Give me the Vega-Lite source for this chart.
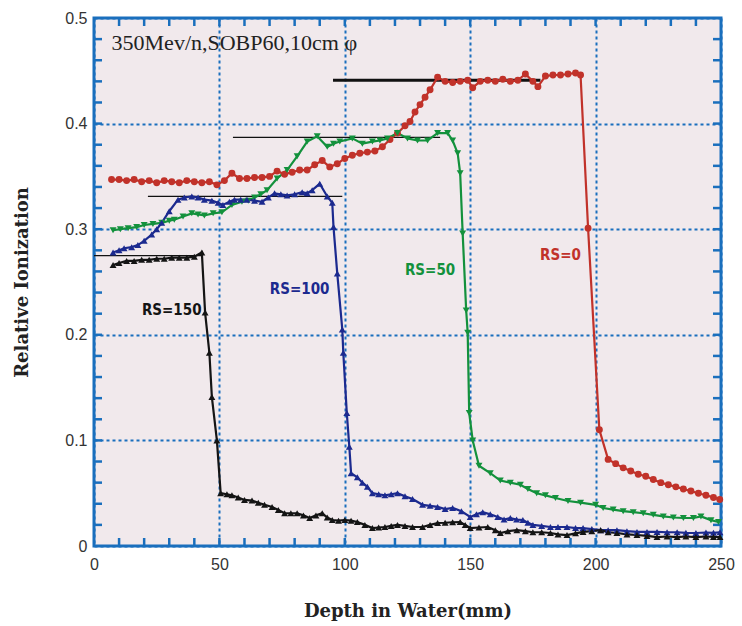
{
  "$schema": "https://vega.github.io/schema/vega-lite/v6.json",
  "width": 627,
  "height": 528,
  "autosize": {"type": "none"},
  "padding": {"left": 94, "top": 18, "right": 21, "bottom": 80},
  "background": "white",
  "config": {
    "view": {"fill": "#f1e9ec", "stroke": "#1a6fbd", "strokeWidth": 3}
  },
  "datasets": {
    "curves": [
      {"s":"RS=0","x":7,"y":0.347},{"s":"RS=0","x":10,"y":0.347},{"s":"RS=0","x":13,"y":0.346},{"s":"RS=0","x":16,"y":0.347},{"s":"RS=0","x":19,"y":0.345},{"s":"RS=0","x":22,"y":0.346},{"s":"RS=0","x":25,"y":0.344},{"s":"RS=0","x":28,"y":0.346},{"s":"RS=0","x":31,"y":0.345},{"s":"RS=0","x":34,"y":0.344},{"s":"RS=0","x":37,"y":0.346},{"s":"RS=0","x":40,"y":0.345},{"s":"RS=0","x":43,"y":0.344},{"s":"RS=0","x":46,"y":0.345},{"s":"RS=0","x":49,"y":0.342},{"s":"RS=0","x":52,"y":0.346},{"s":"RS=0","x":55,"y":0.353},{"s":"RS=0","x":58,"y":0.348},{"s":"RS=0","x":61,"y":0.348},{"s":"RS=0","x":64,"y":0.349},{"s":"RS=0","x":67,"y":0.349},{"s":"RS=0","x":70,"y":0.35},{"s":"RS=0","x":73,"y":0.355},{"s":"RS=0","x":76,"y":0.352},{"s":"RS=0","x":79,"y":0.354},{"s":"RS=0","x":82,"y":0.356},{"s":"RS=0","x":85,"y":0.356},{"s":"RS=0","x":88,"y":0.361},{"s":"RS=0","x":91,"y":0.365},{"s":"RS=0","x":94,"y":0.359},{"s":"RS=0","x":97,"y":0.362},{"s":"RS=0","x":100,"y":0.367},{"s":"RS=0","x":103,"y":0.37},{"s":"RS=0","x":106,"y":0.372},{"s":"RS=0","x":109,"y":0.373},{"s":"RS=0","x":112,"y":0.374},{"s":"RS=0","x":115,"y":0.378},{"s":"RS=0","x":118,"y":0.385},{"s":"RS=0","x":121,"y":0.391},{"s":"RS=0","x":124,"y":0.398},{"s":"RS=0","x":126,"y":0.402},{"s":"RS=0","x":128,"y":0.411},{"s":"RS=0","x":130,"y":0.418},{"s":"RS=0","x":132,"y":0.425},{"s":"RS=0","x":134,"y":0.432},{"s":"RS=0","x":137,"y":0.444},{"s":"RS=0","x":140,"y":0.44},{"s":"RS=0","x":143,"y":0.439},{"s":"RS=0","x":146,"y":0.44},{"s":"RS=0","x":149,"y":0.441},{"s":"RS=0","x":151,"y":0.434},{"s":"RS=0","x":154,"y":0.44},{"s":"RS=0","x":157,"y":0.441},{"s":"RS=0","x":160,"y":0.44},{"s":"RS=0","x":163,"y":0.442},{"s":"RS=0","x":166,"y":0.44},{"s":"RS=0","x":169,"y":0.441},{"s":"RS=0","x":172,"y":0.447},{"s":"RS=0","x":175,"y":0.44},{"s":"RS=0","x":177,"y":0.435},{"s":"RS=0","x":180,"y":0.445},{"s":"RS=0","x":183,"y":0.446},{"s":"RS=0","x":186,"y":0.446},{"s":"RS=0","x":189,"y":0.447},{"s":"RS=0","x":192,"y":0.448},{"s":"RS=0","x":194,"y":0.446},{"s":"RS=0","x":197,"y":0.301},{"s":"RS=0","x":201.5,"y":0.11},{"s":"RS=0","x":205,"y":0.082},{"s":"RS=0","x":208,"y":0.078},{"s":"RS=0","x":211,"y":0.074},{"s":"RS=0","x":214,"y":0.071},{"s":"RS=0","x":217,"y":0.068},{"s":"RS=0","x":220,"y":0.066},{"s":"RS=0","x":223,"y":0.063},{"s":"RS=0","x":226,"y":0.06},{"s":"RS=0","x":229,"y":0.058},{"s":"RS=0","x":232,"y":0.056},{"s":"RS=0","x":235,"y":0.054},{"s":"RS=0","x":238,"y":0.052},{"s":"RS=0","x":241,"y":0.05},{"s":"RS=0","x":244,"y":0.048},{"s":"RS=0","x":247,"y":0.046},{"s":"RS=0","x":249.5,"y":0.044},

      {"s":"RS=50","x":7.6,"y":0.299},{"s":"RS=50","x":10.5,"y":0.3},{"s":"RS=50","x":13.6,"y":0.301},{"s":"RS=50","x":17,"y":0.302},{"s":"RS=50","x":20,"y":0.304},{"s":"RS=50","x":23.5,"y":0.305},{"s":"RS=50","x":27,"y":0.306},{"s":"RS=50","x":30,"y":0.308},{"s":"RS=50","x":32,"y":0.309},{"s":"RS=50","x":35.5,"y":0.312},{"s":"RS=50","x":39,"y":0.315},{"s":"RS=50","x":41.5,"y":0.314},{"s":"RS=50","x":44,"y":0.313},{"s":"RS=50","x":47.5,"y":0.315},{"s":"RS=50","x":51,"y":0.316},{"s":"RS=50","x":55,"y":0.323},{"s":"RS=50","x":59,"y":0.326},{"s":"RS=50","x":61.5,"y":0.327},{"s":"RS=50","x":64,"y":0.33},{"s":"RS=50","x":66.5,"y":0.333},{"s":"RS=50","x":69,"y":0.337},{"s":"RS=50","x":73,"y":0.348},{"s":"RS=50","x":77,"y":0.356},{"s":"RS=50","x":81,"y":0.369},{"s":"RS=50","x":85,"y":0.383},{"s":"RS=50","x":89,"y":0.388},{"s":"RS=50","x":93,"y":0.378},{"s":"RS=50","x":95.5,"y":0.381},{"s":"RS=50","x":98,"y":0.383},{"s":"RS=50","x":103,"y":0.386},{"s":"RS=50","x":107,"y":0.381},{"s":"RS=50","x":111,"y":0.383},{"s":"RS=50","x":114,"y":0.384},{"s":"RS=50","x":117,"y":0.386},{"s":"RS=50","x":121,"y":0.391},{"s":"RS=50","x":125,"y":0.386},{"s":"RS=50","x":129,"y":0.384},{"s":"RS=50","x":133,"y":0.384},{"s":"RS=50","x":137,"y":0.391},{"s":"RS=50","x":141,"y":0.391},{"s":"RS=50","x":143,"y":0.384},{"s":"RS=50","x":145,"y":0.372},{"s":"RS=50","x":146,"y":0.353},{"s":"RS=50","x":147,"y":0.296},{"s":"RS=50","x":148.4,"y":0.223},{"s":"RS=50","x":149,"y":0.202},{"s":"RS=50","x":149.6,"y":0.126},{"s":"RS=50","x":151,"y":0.1},{"s":"RS=50","x":153.5,"y":0.076},{"s":"RS=50","x":158,"y":0.069},{"s":"RS=50","x":162,"y":0.062},{"s":"RS=50","x":166,"y":0.06},{"s":"RS=50","x":170,"y":0.058},{"s":"RS=50","x":173,"y":0.054},{"s":"RS=50","x":176.5,"y":0.05},{"s":"RS=50","x":180,"y":0.048},{"s":"RS=50","x":184,"y":0.0455},{"s":"RS=50","x":189,"y":0.0426},{"s":"RS=50","x":194,"y":0.041},{"s":"RS=50","x":200,"y":0.039},{"s":"RS=50","x":203,"y":0.036},{"s":"RS=50","x":207,"y":0.0345},{"s":"RS=50","x":211,"y":0.033},{"s":"RS=50","x":215,"y":0.032},{"s":"RS=50","x":219,"y":0.031},{"s":"RS=50","x":223,"y":0.0295},{"s":"RS=50","x":227,"y":0.028},{"s":"RS=50","x":231,"y":0.027},{"s":"RS=50","x":235,"y":0.0265},{"s":"RS=50","x":239,"y":0.0265},{"s":"RS=50","x":242,"y":0.028},{"s":"RS=50","x":246,"y":0.0245},{"s":"RS=50","x":249,"y":0.0227},

      {"s":"RS=100","x":7.6,"y":0.278},{"s":"RS=100","x":10,"y":0.28},{"s":"RS=100","x":12,"y":0.282},{"s":"RS=100","x":15,"y":0.283},{"s":"RS=100","x":17.5,"y":0.285},{"s":"RS=100","x":20,"y":0.289},{"s":"RS=100","x":23,"y":0.295},{"s":"RS=100","x":25,"y":0.3},{"s":"RS=100","x":27,"y":0.306},{"s":"RS=100","x":30,"y":0.317},{"s":"RS=100","x":33.5,"y":0.328},{"s":"RS=100","x":36,"y":0.33},{"s":"RS=100","x":39,"y":0.331},{"s":"RS=100","x":41.5,"y":0.33},{"s":"RS=100","x":44,"y":0.328},{"s":"RS=100","x":47,"y":0.327},{"s":"RS=100","x":49.5,"y":0.325},{"s":"RS=100","x":51.4,"y":0.323},{"s":"RS=100","x":54,"y":0.326},{"s":"RS=100","x":56,"y":0.328},{"s":"RS=100","x":58.5,"y":0.328},{"s":"RS=100","x":61,"y":0.328},{"s":"RS=100","x":64,"y":0.327},{"s":"RS=100","x":67,"y":0.326},{"s":"RS=100","x":69.5,"y":0.33},{"s":"RS=100","x":72,"y":0.334},{"s":"RS=100","x":74.5,"y":0.333},{"s":"RS=100","x":77,"y":0.332},{"s":"RS=100","x":80,"y":0.333},{"s":"RS=100","x":83,"y":0.335},{"s":"RS=100","x":85,"y":0.334},{"s":"RS=100","x":87,"y":0.337},{"s":"RS=100","x":90,"y":0.343},{"s":"RS=100","x":93,"y":0.331},{"s":"RS=100","x":95,"y":0.325},{"s":"RS=100","x":95.5,"y":0.302},{"s":"RS=100","x":97,"y":0.258},{"s":"RS=100","x":99,"y":0.205},{"s":"RS=100","x":99.4,"y":0.183},{"s":"RS=100","x":100.8,"y":0.126},{"s":"RS=100","x":101.8,"y":0.094},{"s":"RS=100","x":102.5,"y":0.069},{"s":"RS=100","x":105,"y":0.065},{"s":"RS=100","x":107,"y":0.06},{"s":"RS=100","x":109,"y":0.056},{"s":"RS=100","x":111,"y":0.05},{"s":"RS=100","x":113.5,"y":0.049},{"s":"RS=100","x":116,"y":0.048},{"s":"RS=100","x":118.5,"y":0.049},{"s":"RS=100","x":121,"y":0.05},{"s":"RS=100","x":124,"y":0.047},{"s":"RS=100","x":127,"y":0.0445},{"s":"RS=100","x":131,"y":0.039},{"s":"RS=100","x":134,"y":0.038},{"s":"RS=100","x":137,"y":0.037},{"s":"RS=100","x":140,"y":0.035},{"s":"RS=100","x":143,"y":0.036},{"s":"RS=100","x":146.5,"y":0.033},{"s":"RS=100","x":150,"y":0.0275},{"s":"RS=100","x":152.5,"y":0.03},{"s":"RS=100","x":155,"y":0.032},{"s":"RS=100","x":158,"y":0.03},{"s":"RS=100","x":161,"y":0.0275},{"s":"RS=100","x":163.5,"y":0.025},{"s":"RS=100","x":166,"y":0.0265},{"s":"RS=100","x":168.5,"y":0.025},{"s":"RS=100","x":171,"y":0.0246},{"s":"RS=100","x":173,"y":0.022},{"s":"RS=100","x":175,"y":0.02},{"s":"RS=100","x":178.5,"y":0.019},{"s":"RS=100","x":182,"y":0.018},{"s":"RS=100","x":185,"y":0.018},{"s":"RS=100","x":188.6,"y":0.018},{"s":"RS=100","x":192,"y":0.017},{"s":"RS=100","x":195,"y":0.017},{"s":"RS=100","x":198.5,"y":0.016},{"s":"RS=100","x":202,"y":0.015},{"s":"RS=100","x":205,"y":0.015},{"s":"RS=100","x":208.5,"y":0.015},{"s":"RS=100","x":212.5,"y":0.014},{"s":"RS=100","x":216.5,"y":0.0133},{"s":"RS=100","x":220.5,"y":0.0133},{"s":"RS=100","x":224.5,"y":0.0133},{"s":"RS=100","x":228.5,"y":0.013},{"s":"RS=100","x":232.5,"y":0.013},{"s":"RS=100","x":236,"y":0.0125},{"s":"RS=100","x":240,"y":0.0123},{"s":"RS=100","x":244,"y":0.0128},{"s":"RS=100","x":247,"y":0.0125},{"s":"RS=100","x":249.6,"y":0.013},

      {"s":"RS=150","x":7.6,"y":0.266},{"s":"RS=150","x":10,"y":0.268},{"s":"RS=150","x":13,"y":0.27},{"s":"RS=150","x":16,"y":0.27},{"s":"RS=150","x":19,"y":0.271},{"s":"RS=150","x":22,"y":0.271},{"s":"RS=150","x":25,"y":0.272},{"s":"RS=150","x":28,"y":0.272},{"s":"RS=150","x":31,"y":0.273},{"s":"RS=150","x":34,"y":0.273},{"s":"RS=150","x":37,"y":0.273},{"s":"RS=150","x":40,"y":0.274},{"s":"RS=150","x":43,"y":0.278},{"s":"RS=150","x":44.3,"y":0.221},{"s":"RS=150","x":46,"y":0.183},{"s":"RS=150","x":47,"y":0.141},{"s":"RS=150","x":49,"y":0.1},{"s":"RS=150","x":50.5,"y":0.05},{"s":"RS=150","x":53,"y":0.049},{"s":"RS=150","x":55,"y":0.048},{"s":"RS=150","x":57.5,"y":0.046},{"s":"RS=150","x":60,"y":0.0436},{"s":"RS=150","x":63,"y":0.043},{"s":"RS=150","x":65.5,"y":0.041},{"s":"RS=150","x":68,"y":0.039},{"s":"RS=150","x":71,"y":0.037},{"s":"RS=150","x":73.5,"y":0.034},{"s":"RS=150","x":76,"y":0.031},{"s":"RS=150","x":78.5,"y":0.031},{"s":"RS=150","x":81,"y":0.031},{"s":"RS=150","x":83.5,"y":0.029},{"s":"RS=150","x":86,"y":0.0265},{"s":"RS=150","x":88.5,"y":0.029},{"s":"RS=150","x":91,"y":0.031},{"s":"RS=150","x":93,"y":0.027},{"s":"RS=150","x":95,"y":0.0246},{"s":"RS=150","x":97.5,"y":0.024},{"s":"RS=150","x":100,"y":0.0246},{"s":"RS=150","x":102.5,"y":0.024},{"s":"RS=150","x":105,"y":0.0227},{"s":"RS=150","x":108,"y":0.02},{"s":"RS=150","x":111,"y":0.017},{"s":"RS=150","x":113.5,"y":0.0175},{"s":"RS=150","x":116,"y":0.018},{"s":"RS=150","x":118.5,"y":0.019},{"s":"RS=150","x":121,"y":0.02},{"s":"RS=150","x":124,"y":0.019},{"s":"RS=150","x":127,"y":0.018},{"s":"RS=150","x":131,"y":0.018},{"s":"RS=150","x":134,"y":0.02},{"s":"RS=150","x":137,"y":0.0218},{"s":"RS=150","x":140,"y":0.022},{"s":"RS=150","x":143,"y":0.0225},{"s":"RS=150","x":146,"y":0.0227},{"s":"RS=150","x":148,"y":0.02},{"s":"RS=150","x":150,"y":0.017},{"s":"RS=150","x":153.5,"y":0.0175},{"s":"RS=150","x":157,"y":0.018},{"s":"RS=150","x":160,"y":0.015},{"s":"RS=150","x":162,"y":0.0123},{"s":"RS=150","x":165,"y":0.014},{"s":"RS=150","x":168.6,"y":0.015},{"s":"RS=150","x":172,"y":0.014},{"s":"RS=150","x":175,"y":0.013},{"s":"RS=150","x":178.5,"y":0.013},{"s":"RS=150","x":182,"y":0.0123},{"s":"RS=150","x":185,"y":0.011},{"s":"RS=150","x":188.6,"y":0.0104},{"s":"RS=150","x":192,"y":0.012},{"s":"RS=150","x":195,"y":0.0133},{"s":"RS=150","x":198.5,"y":0.014},{"s":"RS=150","x":202,"y":0.015},{"s":"RS=150","x":205,"y":0.013},{"s":"RS=150","x":208.5,"y":0.0123},{"s":"RS=150","x":212.5,"y":0.011},{"s":"RS=150","x":216.5,"y":0.0104},{"s":"RS=150","x":220.5,"y":0.0095},{"s":"RS=150","x":224.5,"y":0.0085},{"s":"RS=150","x":228.5,"y":0.009},{"s":"RS=150","x":232.5,"y":0.0085},{"s":"RS=150","x":236,"y":0.009},{"s":"RS=150","x":240,"y":0.0085},{"s":"RS=150","x":244,"y":0.009},{"s":"RS=150","x":247,"y":0.0085},{"s":"RS=150","x":249.6,"y":0.0085}
    ],
    "refs": [
      {"s":"RS=0","x":95.3,"x2":178,"y":0.441},
      {"s":"RS=50","x":55.4,"x2":138,"y":0.387},
      {"s":"RS=100","x":21.5,"x2":99,"y":0.331},
      {"s":"RS=150","x":0,"x2":43,"y":0.275}
    ],
    "labels": [
      {"s":"RS=150","x":31,"y":0.2235},
      {"s":"RS=100","x":82,"y":0.243},
      {"s":"RS=50","x":134,"y":0.261},
      {"s":"RS=0","x":186,"y":0.2756}
    ],
    "note": [
      {"t":"350Mev/n,SOBP60,10cm φ","x":7,"y":0.476}
    ],
    "xt": [
      {"v":10},{"v":20},{"v":30},{"v":40},{"v":50},{"v":60},{"v":70},{"v":80},{"v":90},{"v":100},{"v":110},{"v":120},{"v":130},{"v":140},{"v":150},{"v":160},{"v":170},{"v":180},{"v":190},{"v":200},{"v":210},{"v":220},{"v":230},{"v":240}
    ],
    "yt": [
      {"v":0.02},{"v":0.04},{"v":0.06},{"v":0.08},{"v":0.1},{"v":0.12},{"v":0.14},{"v":0.16},{"v":0.18},{"v":0.2},{"v":0.22},{"v":0.24},{"v":0.26},{"v":0.28},{"v":0.3},{"v":0.32},{"v":0.34},{"v":0.36},{"v":0.38},{"v":0.4},{"v":0.42},{"v":0.44},{"v":0.46},{"v":0.48}
    ]
  },
  "layer": [
    {
      "data": {"name": "xt"},
      "mark": {"type": "tick", "orient": "vertical", "size": 16, "thickness": 2.5, "color": "#1a6fbd", "opacity": 1, "clip": true},
      "encoding": {
        "x": {"field": "v", "type": "quantitative", "scale": {"domain": [0, 250], "nice": false}, "axis": null},
        "y": {"datum": 0, "type": "quantitative", "scale": {"domain": [0, 0.5], "nice": false}, "axis": null}
      }
    },
    {
      "data": {"name": "xt"},
      "mark": {"type": "tick", "orient": "vertical", "size": 16, "thickness": 2.5, "color": "#1a6fbd", "opacity": 1, "clip": true},
      "encoding": {
        "x": {"field": "v", "type": "quantitative", "axis": null},
        "y": {"datum": 0.5, "type": "quantitative", "axis": null}
      }
    },
    {
      "data": {"name": "yt"},
      "mark": {"type": "tick", "orient": "horizontal", "size": 16, "thickness": 2.5, "color": "#1a6fbd", "opacity": 1, "clip": true},
      "encoding": {
        "y": {"field": "v", "type": "quantitative", "axis": null},
        "x": {"datum": 0, "type": "quantitative", "axis": null}
      }
    },
    {
      "data": {"name": "yt"},
      "mark": {"type": "tick", "orient": "horizontal", "size": 16, "thickness": 2.5, "color": "#1a6fbd", "opacity": 1, "clip": true},
      "encoding": {
        "y": {"field": "v", "type": "quantitative", "axis": null},
        "x": {"datum": 250, "type": "quantitative", "axis": null}
      }
    },
    {
      "data": {"name": "refs"},
      "mark": {"type": "rule", "color": "#111111"},
      "encoding": {
        "x": {"field": "x", "type": "quantitative", "axis": null},
        "x2": {"field": "x2"},
        "y": {"field": "y", "type": "quantitative", "axis": null},
        "strokeWidth": {"condition": {"test": "datum.s === 'RS=0'", "value": 3}, "value": 1.3}
      }
    },
    {
      "data": {"name": "curves"},
      "mark": {"type": "line", "strokeWidth": 2.2},
      "encoding": {
        "x": {
          "field": "x", "type": "quantitative",
          "axis": {
            "orient": "bottom",
            "values": [0, 50, 100, 150, 200, 250],
            "labelFlush": false, "labelOverlap": false,
            "labelFont": "Liberation Sans", "labelFontSize": 16, "labelColor": "#333333", "labelPadding": 10,
            "domain": false, "ticks": false,
            "grid": true, "gridColor": "#1a6fbd", "gridDash": [3, 3], "gridWidth": 2,
            "title": "Depth in Water(mm)",
            "titleFont": "DejaVu Serif", "titleFontWeight": "bold", "titleFontSize": 18, "titleColor": "#222222",
            "titlePadding": 30
          }
        },
        "y": {
          "field": "y", "type": "quantitative",
          "axis": {
            "orient": "left",
            "values": [0, 0.1, 0.2, 0.3, 0.4, 0.5],
            "format": ".1~f",
            "labelFlush": false, "labelOverlap": false,
            "labelFont": "Liberation Sans", "labelFontSize": 16, "labelColor": "#333333", "labelPadding": 7,
            "domain": false, "ticks": false,
            "grid": true, "gridColor": "#1a6fbd", "gridDash": [3, 3], "gridWidth": 2,
            "title": "Relative Ionization",
            "titleFont": "DejaVu Serif", "titleFontWeight": "bold", "titleFontSize": 18, "titleColor": "#222222",
            "titlePadding": 33
          }
        },
        "color": {
          "field": "s", "type": "nominal",
          "scale": {"domain": ["RS=0", "RS=50", "RS=100", "RS=150"], "range": ["#c1322a", "#13913c", "#1c2a8f", "#141414"]},
          "legend": null
        },
        "order": {"field": "x", "type": "quantitative"}
      }
    },
    {
      "data": {"name": "curves"},
      "mark": {"type": "point", "filled": true, "opacity": 1, "size": 48},
      "encoding": {
        "x": {"field": "x", "type": "quantitative", "axis": null},
        "y": {"field": "y", "type": "quantitative", "axis": null},
        "color": {"field": "s", "type": "nominal", "legend": null},
        "shape": {
          "field": "s", "type": "nominal",
          "scale": {"domain": ["RS=0", "RS=50", "RS=100", "RS=150"], "range": ["circle", "triangle-down", "triangle-up", "triangle-up"]},
          "legend": null
        }
      }
    },
    {
      "data": {"name": "labels"},
      "mark": {"type": "text", "font": "Liberation Sans Narrow, DejaVu Sans Condensed, sans-serif", "fontWeight": "bold", "fontSize": 15, "align": "center", "baseline": "middle"},
      "encoding": {
        "x": {"field": "x", "type": "quantitative", "axis": null},
        "y": {"field": "y", "type": "quantitative", "axis": null},
        "text": {"field": "s"},
        "color": {"field": "s", "type": "nominal", "legend": null}
      }
    },
    {
      "data": {"name": "note"},
      "mark": {"type": "text", "font": "Liberation Serif", "fontSize": 22, "align": "left", "baseline": "middle", "color": "#222222"},
      "encoding": {
        "x": {"field": "x", "type": "quantitative", "axis": null},
        "y": {"field": "y", "type": "quantitative", "axis": null},
        "text": {"field": "t"}
      }
    }
  ],
  "resolve": {"axis": {"x": "independent", "y": "independent"}}
}
